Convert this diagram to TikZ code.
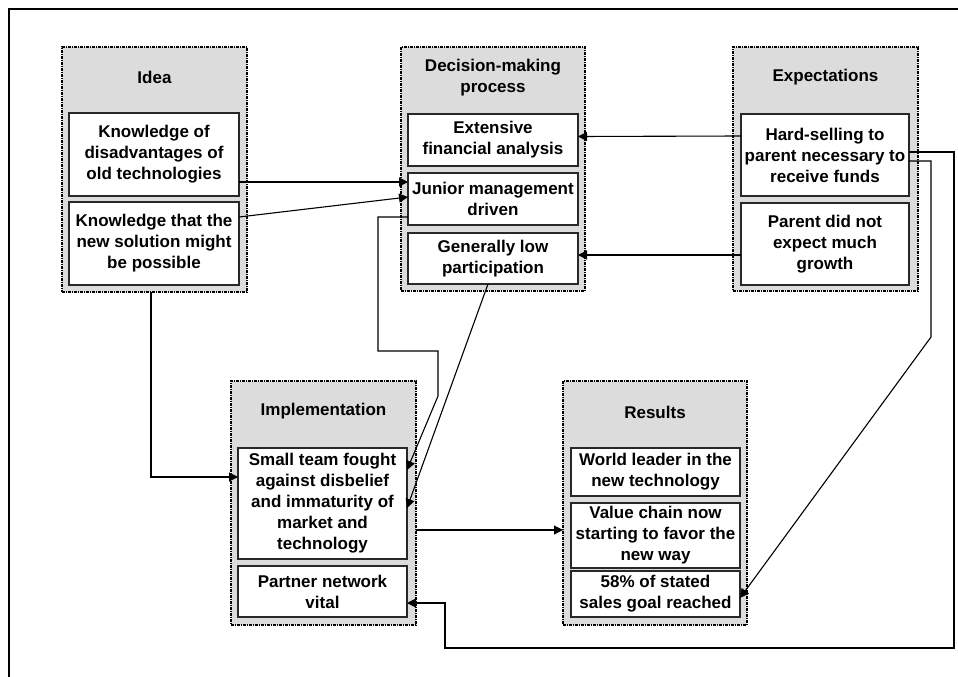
\documentclass[tikz,border=0pt]{standalone}
\usepackage{fontspec}
\setmainfont{Liberation Sans}
\usetikzlibrary{arrows.meta,calc}
\definecolor{panelgray}{RGB}{220,220,220}
\definecolor{edgegray}{RGB}{40,40,40}
\begin{document}
\begin{tikzpicture}[x=1pt,y=-1pt,
  txt/.style={font=\fontsize{17}{21}\selectfont\bfseries, align=center},
  panel/.style={draw=black, fill=panelgray, line width=1.2pt,
    dash pattern=on 3pt off 1pt on 1pt off 1pt, inner sep=0pt, outer sep=0pt},
  item/.style={txt, draw=edgegray, fill=white, line width=1.5pt, inner sep=0pt, outer sep=0pt},
  title/.style={txt, inner sep=0pt},
  link/.style={draw=black, line width=1.1pt},
  arr/.style={link, -{Triangle[length=9pt,width=9pt]}},
  frame/.style={line width=2.4pt}]

\useasboundingbox (0,0) rectangle (958,677);

% outer frame
\draw[frame] (9,677) -- (9,9) -- (958,9);

% group panels
\node[panel, minimum width=185pt, minimum height=245pt] (ideaG) at (154.5,169.5) {};
\node[panel, minimum width=184pt, minimum height=244pt] (decG)  at (493,169) {};
\node[panel, minimum width=185pt, minimum height=244pt] (expG)  at (825.5,169) {};
\node[panel, minimum width=185pt, minimum height=244pt] (impG)  at (323.5,503) {};
\node[panel, minimum width=184pt, minimum height=244pt] (resG)  at (655,503) {};

% panel titles
\node[title] (ideaT) at (154.5,77) {Idea};
\node[title] (decT)  at (493,78)   {Decision-making\\process};
\node[title] (expT)  at (825.5,77) {Expectations};
\node[title] (impT)  at (323.5,411) {Implementation};
\node[title] (resT)  at (655,412)  {Results};

% items
\node[item, minimum width=170pt, minimum height=83pt] (ideaA) at (154,154.5)
  {Knowledge of\\disadvantages of\\old technologies};
\node[item, minimum width=170pt, minimum height=83pt] (ideaB) at (154,243.5)
  {Knowledge that the\\new solution might\\be possible};

\node[item, minimum width=170pt, minimum height=52pt] (decA) at (493,140)
  {Extensive\\financial analysis};
\node[item, minimum width=170pt, minimum height=52pt] (decB) at (493,199)
  {Junior management\\driven};
\node[item, minimum width=170pt, minimum height=51pt] (decC) at (493,258.5)
  {Generally low\\participation};

\node[item, minimum width=168pt, minimum height=82pt] (expA) at (825,155)
  {Hard-selling to\\parent necessary to\\receive funds};
\node[item, minimum width=168pt, minimum height=82pt] (expB) at (825,244)
  {Parent did not\\expect much\\growth};

\node[item, minimum width=169pt, minimum height=111pt] (impA) at (322.5,503.5)
  {Small team fought\\against disbelief\\and immaturity of\\market and\\technology};
\node[item, minimum width=169pt, minimum height=51pt] (impB) at (322.5,591.5)
  {Partner network\\vital};

\node[item, minimum width=169pt, minimum height=48pt] (resA) at (655.5,472)
  {World leader in the\\new technology};
\node[item, minimum width=169pt, minimum height=65pt] (resB) at (655.5,535.5)
  {Value chain now\\starting to favor the\\new way};
\node[item, minimum width=169pt, minimum height=46pt] (resC) at (655.5,594)
  {58\% of stated\\sales goal reached};

% connectors
\draw[arr] ([yshift=-27.5pt]ideaA.east) -- ([yshift=17pt]decB.west);
\draw[arr] ([yshift=26.5pt]ideaB.east) -- ([yshift=2pt]decB.west);
\draw[arr] ([xshift=-3.5pt]ideaG.south) |- ([yshift=26.5pt]impA.west);

\draw[arr] ([yshift=-18pt]decB.west) -- ++(-30,0) -- ++(0,134) -- ++(60,0)
  -- ++(0,45) -- ([yshift=33.5pt]impA.east);
\draw[arr] ([xshift=-5pt]decC.south) -- ([yshift=-4.5pt]impA.east);

\draw[arr] ([yshift=19pt]expA.west) -- ([yshift=3.5pt]decA.east);
\draw[arr] ([yshift=-11pt]expB.west) -- ([yshift=3.5pt]decC.east);

\draw[arr] ([yshift=-6pt]expA.east) -- ++(22,0) -- ++(0,176)
  -- ([yshift=-4pt]resC.east);
\draw[arr] ([yshift=3pt]expA.east) -- ++(45,0) -- ++(0,496) -- ++(-509,0)
  -- ++(0,-45) -- ([yshift=-11.5pt]impB.east);

\draw[arr] ([yshift=-27pt]impG.east) -- ([yshift=-27pt]resG.west);

\end{tikzpicture}
\end{document}
